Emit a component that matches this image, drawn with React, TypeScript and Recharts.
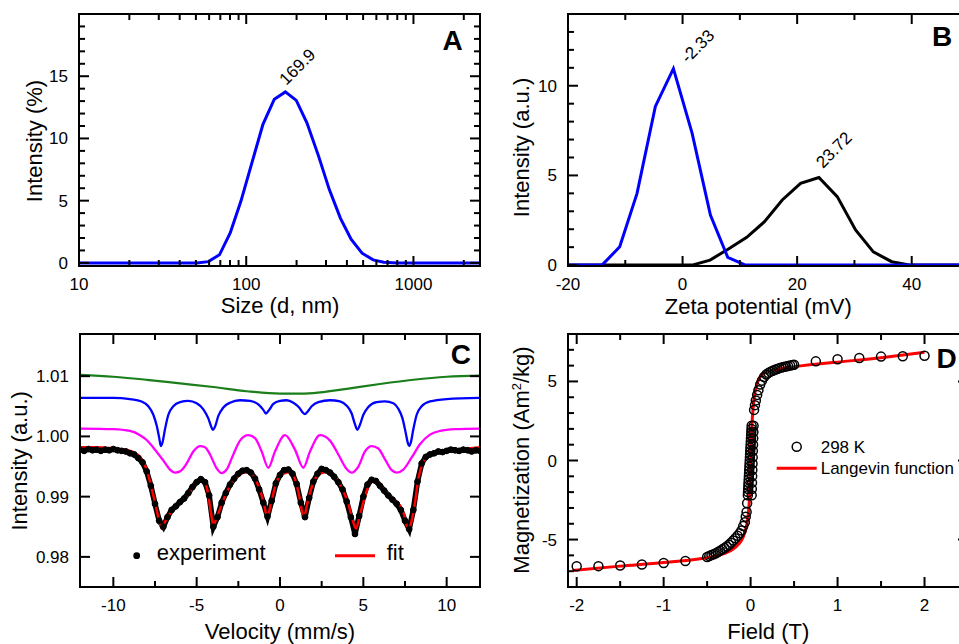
import React from 'react';
import { LineChart, ComposedChart, Line, Scatter, XAxis, YAxis, ReferenceDot } from 'recharts';

const FONT = '"Liberation Sans", Arial, Helvetica, sans-serif';

// ---------- Panel A: DLS size distribution ----------
const sizeNm = [10, 20, 30, 40, 50.7, 59.4, 69.2, 80.2, 92.9, 108.1, 125.9, 147.2, 171.4, 199.2, 230.6, 270.8, 314, 365.6, 423.6, 493, 574, 664, 800, 1200, 2500];
const sizeIntensity = [0, 0, 0, 0, 0, 0.1, 0.65, 2.4, 4.95, 8.04, 11.13, 13.15, 13.74, 13.06, 11.26, 8.58, 5.89, 3.6, 1.91, 0.78, 0.24, 0.05, 0, 0, 0];
const sizeMajor = [10, 100, 1000];
const sizeMinor = [20, 30, 40, 50, 60, 70, 80, 90, 200, 300, 400, 500, 600, 700, 800, 900, 2000];
const intAMajor = [0, 5, 10, 15];
const intAMinor = [1, 2, 3, 4, 6, 7, 8, 9, 11, 12, 13, 14, 16, 17, 18, 19];

// ---------- Panel B: zeta potential ----------
const zetaBlueX = [-20, -14.06, -10.97, -7.95, -4.75, -1.6, 1.66, 4.86, 7.89, 10.97, 50];
const zetaBlueY = [0, 0, 1.02, 4.0, 8.85, 10.95, 7.36, 2.79, 0.43, 0, 0];
const zetaBlackX = [-20, 1.66, 4.8, 8.0, 11.2, 14.3, 17.4, 20.6, 23.8, 27.0, 30.2, 33.3, 36.5, 39.8, 50];
const zetaBlackY = [0, 0, 0.28, 0.9, 1.55, 2.42, 3.63, 4.56, 4.88, 3.82, 1.96, 0.74, 0.19, 0, 0];
const zetaMajor = [-20, 0, 20, 40];
const zetaMinor = [-10, 10, 30];
const intBMajor = [0, 5, 10];
const intBMinor = [1, 2, 3, 4, 6, 7, 8, 9, 11, 12, 13];

// ---------- Panel C: Mossbauer ----------
const greenV = [-12, -10, -8, -6, -4, -2, 0, 1, 2, 4, 6, 8, 10, 12];
const greenI = [1.0102, 1.0099, 1.0094, 1.0088, 1.0082, 1.0075, 1.0071, 1.0071, 1.0072, 1.0079, 1.0087, 1.0094, 1.0099, 1.0101];
const blueV = [-12, -10, -9, -8.3, -7.9, -7.6, -7.4, -7.25, -7.15, -7.05, -6.9, -6.7, -6.4, -6.0, -5.5, -5.0, -4.6, -4.3, -4.15, -4.03, -3.9, -3.7, -3.4, -3.0, -2.4, -1.8, -1.3, -1.0, -0.84, -0.65, -0.4, 0, 0.4, 0.8, 1.15, 1.35, 1.5, 1.65, 1.9, 2.3, 3.0, 3.6, 4.0, 4.3, 4.5, 4.64, 4.78, 5.0, 5.3, 5.8, 6.3, 6.8, 7.1, 7.35, 7.55, 7.68, 7.76, 7.85, 8.0, 8.2, 8.5, 9.0, 10, 12];
const blueI = [1.0064, 1.0064, 1.0062, 1.0058, 1.0050, 1.0036, 1.0018, 0.9998, 0.9984, 0.9990, 1.0012, 1.0036, 1.0050, 1.0057, 1.0059, 1.0055, 1.0045, 1.0030, 1.0018, 1.0011, 1.0016, 1.0034, 1.0048, 1.0056, 1.0060, 1.0059, 1.0053, 1.0044, 1.0038, 1.0044, 1.0054, 1.0059, 1.0060, 1.0056, 1.0048, 1.0040, 1.0037, 1.0041, 1.0050, 1.0057, 1.0060, 1.0058, 1.0051, 1.0038, 1.0020, 1.0011, 1.0018, 1.0036, 1.0049, 1.0057, 1.0058, 1.0055, 1.0046, 1.0030, 1.0005, 0.9988, 0.9984, 0.9990, 1.0012, 1.0036, 1.0050, 1.0058, 1.0062, 1.0064];
const pinkV = [-12, -10, -9, -8.4, -8, -7.5, -7, -6.6, -6.3, -6.0, -5.6, -5.2, -4.8, -4.5, -4.2, -3.8, -3.5, -3.2, -2.8, -2.4, -1.9, -1.5, -1.1, -0.7, -0.3, 0.3, 0.9, 1.4, 1.8, 2.4, 3.0, 3.5, 4.0, 4.3, 4.7, 5.1, 5.5, 5.9, 6.3, 6.7, 7.0, 7.4, 7.9, 8.4, 9.0, 9.6, 10.5, 12];
const pinkI = [1.0013, 1.0012, 1.0009, 1.0002, 0.9994, 0.9978, 0.9960, 0.9945, 0.9940, 0.9942, 0.9955, 0.9975, 0.9984, 0.9982, 0.9970, 0.9947, 0.9939, 0.9945, 0.9970, 0.9993, 1.0002, 0.9997, 0.9975, 0.9948, 0.9975, 1.0002, 0.9978, 0.9948, 0.9975, 1.0002, 0.9993, 0.9970, 0.9946, 0.9940, 0.9950, 0.9975, 0.9984, 0.9980, 0.9962, 0.9944, 0.9940, 0.9945, 0.9965, 0.9987, 1.0003, 1.0009, 1.0012, 1.0013];
const fitV = [-12, -11, -10, -9.3, -8.8, -8.4, -8.1, -7.8, -7.5, -7.25, -7.1, -6.9, -6.6, -6.0, -5.4, -4.9, -4.6, -4.35, -4.15, -4.0, -3.8, -3.4, -3.0, -2.5, -2.0, -1.6, -1.3, -1.0, -0.76, -0.55, -0.2, 0.2, 0.6, 0.95, 1.2, 1.42, 1.65, 2.0, 2.4, 2.8, 3.3, 3.7, 4.1, 4.35, 4.56, 4.8, 5.1, 5.5, 5.9, 6.3, 6.8, 7.2, 7.45, 7.7, 7.9, 8.1, 8.3, 8.6, 9.0, 9.6, 10.6, 12];
const fitI = [0.9982, 0.9982, 0.9980, 0.9978, 0.9974, 0.9966, 0.9952, 0.9925, 0.9890, 0.9860, 0.9847, 0.9858, 0.9872, 0.9889, 0.9908, 0.9928, 0.9926, 0.9910, 0.9875, 0.9853, 0.9865, 0.9894, 0.9918, 0.9935, 0.9941, 0.9935, 0.9918, 0.9893, 0.9866, 0.9888, 0.9925, 0.9938, 0.9941, 0.9925, 0.9895, 0.9864, 0.9890, 0.9924, 0.9938, 0.9941, 0.9933, 0.9915, 0.9888, 0.9862, 0.9847, 0.9870, 0.9900, 0.9926, 0.9922, 0.9910, 0.9896, 0.9885, 0.9870, 0.9844, 0.9860, 0.9890, 0.9930, 0.9958, 0.9970, 0.9975, 0.9978, 0.9982];
const expV = [-12, -11.75, -11.5, -11.25, -11, -10.75, -10.5, -10.25, -10, -9.75, -9.5, -9.25, -9, -8.75, -8.5, -8.25, -8, -7.75, -7.5, -7.25, -7, -6.75, -6.5, -6.25, -6, -5.75, -5.5, -5.25, -5, -4.75, -4.5, -4.25, -4, -3.75, -3.5, -3.25, -3, -2.75, -2.5, -2.25, -2, -1.75, -1.5, -1.25, -1, -0.75, -0.5, -0.25, 0, 0.25, 0.5, 0.75, 1, 1.25, 1.5, 1.75, 2, 2.25, 2.5, 2.75, 3, 3.25, 3.5, 3.75, 4, 4.25, 4.5, 4.75, 5, 5.25, 5.5, 5.75, 6, 6.25, 6.5, 6.75, 7, 7.25, 7.5, 7.75, 8, 8.25, 8.5, 8.75, 9, 9.25, 9.5, 9.75, 10, 10.25, 10.5, 10.75, 11, 11.25, 11.5, 11.75, 12];
const expI = [0.9978, 0.9976, 0.9979, 0.9977, 0.9978, 0.9976, 0.9978, 0.9977, 0.9979, 0.9977, 0.9976, 0.9975, 0.9972, 0.9970, 0.9964, 0.9957, 0.9942, 0.9918, 0.9888, 0.9860, 0.9850, 0.9866, 0.9878, 0.9884, 0.9891, 0.9897, 0.9906, 0.9916, 0.9924, 0.9929, 0.9924, 0.9902, 0.9850, 0.9866, 0.9890, 0.9906, 0.9920, 0.9930, 0.9938, 0.9943, 0.9944, 0.9940, 0.9930, 0.9912, 0.9890, 0.9867, 0.9893, 0.9922, 0.9936, 0.9944, 0.9945, 0.9938, 0.9921, 0.9890, 0.9866, 0.9898, 0.9925, 0.9938, 0.9946, 0.9944, 0.9940, 0.9933, 0.9924, 0.9912, 0.9892, 0.9866, 0.9838, 0.9868, 0.9900, 0.9920, 0.9928, 0.9926, 0.9918, 0.9910, 0.9902, 0.9895, 0.9888, 0.9878, 0.9860, 0.9846, 0.9878, 0.9925, 0.9955, 0.9966, 0.9970, 0.9972, 0.9975, 0.9974, 0.9976, 0.9978, 0.9977, 0.9976, 0.9978, 0.9977, 0.9975, 0.9977, 0.9976];
const velMajor = [-10, -5, 0, 5, 10];
const velMinor = [-7.5, -2.5, 2.5, 7.5];
const intCMajor = [0.98, 0.99, 1.0, 1.01];

// ---------- Panel D: magnetization ----------
const magField = [-2, -1.75, -1.5, -1.25, -1, -0.75, -0.5, -0.475, -0.45, -0.425, -0.4, -0.375, -0.35, -0.325, -0.3, -0.275, -0.25, -0.225, -0.2, -0.175, -0.15, -0.125, -0.105, -0.085, -0.066, -0.056, -0.046, -0.04, -0.032, -0.03, -0.028, -0.026, -0.024, -0.022, -0.02, -0.018, -0.016, -0.014, -0.012, -0.01, -0.008, -0.006, -0.004, -0.002, 0, 0.002, 0.004, 0.006, 0.008, 0.01, 0.012, 0.012, 0.014, 0.016, 0.018, 0.02, 0.022, 0.024, 0.026, 0.028, 0.03, 0.032, 0.034, 0.04, 0.05, 0.06, 0.075, 0.09, 0.11, 0.13, 0.155, 0.18, 0.205, 0.23, 0.255, 0.28, 0.305, 0.33, 0.355, 0.38, 0.405, 0.43, 0.455, 0.48, 0.5, 0.75, 1, 1.25, 1.5, 1.75, 2];
const magMoment = [-6.69, -6.68, -6.64, -6.58, -6.48, -6.36, -6.1, -6.04, -5.98, -5.93, -5.87, -5.79, -5.7, -5.62, -5.53, -5.44, -5.33, -5.2, -5.06, -4.92, -4.76, -4.6, -4.42, -4.15, -3.9, -3.55, -3.26, -2.7, -2.2, -2.0, -1.8, -1.6, -1.4, -1.2, -1.0, -0.8, -0.6, -0.4, -0.2, 0, 0.2, 0.4, 0.6, 0.8, 1.0, 1.2, 1.4, 1.6, 1.8, 2.0, 2.2, -2.2, -1.8, -1.4, -1.0, -0.6, -0.2, 0.2, 0.6, 1.0, 1.4, 1.8, 2.2, 3.2, 3.5, 3.8, 4.15, 4.45, 4.8, 5.05, 5.28, 5.44, 5.54, 5.62, 5.68, 5.74, 5.79, 5.84, 5.88, 5.92, 5.95, 5.98, 6.01, 6.04, 6.06, 6.27, 6.4, 6.48, 6.57, 6.59, 6.63];
const langField = [-2.05, -1.5, -1, -0.58, -0.4, -0.3, -0.2, -0.14, -0.085, -0.05, -0.027, -0.012, 0, 0.015, 0.03, 0.05, 0.08, 0.107, 0.14, 0.184, 0.25, 0.337, 0.49, 1.14, 1.5, 2.0];
const langMoment = [-6.95, -6.68, -6.45, -6.21, -6.05, -5.88, -5.6, -5.3, -4.84, -4.2, -3.4, -2.2, 0, 2.2, 3.4, 4.3, 4.95, 5.26, 5.45, 5.58, 5.7, 5.79, 5.92, 6.3, 6.5, 6.84];
const fieldMajor = [-2, -1, 0, 1, 2];
const fieldMinor = [-1.5, -0.5, 0.5, 1.5];
const magMajor = [-5, 0, 5];
const magMinor = [-7, -6, -4, -3, -2, -1, 1, 2, 3, 4, 6, 7];

const zip = (xs: number[], ys: number[]) => xs.map((x, i) => ({ x, y: ys[i] }));

type Side = 'bottom' | 'top' | 'left' | 'right';

const makeTick = (side: Side, majors: number[], labeled: boolean, fmt: (v: number) => string = (v) => String(v)) =>
  (props: any) => {
    const { x, y, payload } = props;
    const v = Number(payload.value);
    const isMajor = majors.some((m) => Math.abs(m - v) < 1e-9);
    const len = isMajor ? 10 : 6;
    let x2 = x;
    let y2 = y;
    if (side === 'bottom') y2 = y - len;
    else if (side === 'top') y2 = y + len;
    else if (side === 'left') x2 = x + len;
    else x2 = x - len;
    let label: any = null;
    if (labeled && isMajor) {
      if (side === 'bottom') {
        label = (
          <text x={x} y={y + 24} textAnchor="middle" fontSize={17} fontFamily={FONT} fill="#000">
            {fmt(v)}
          </text>
        );
      } else if (side === 'left') {
        label = (
          <text x={x - 11} y={y + 6} textAnchor="end" fontSize={17} fontFamily={FONT} fill="#000">
            {fmt(v)}
          </text>
        );
      }
    }
    return (
      <g>
        <line x1={x} y1={y} x2={x2} y2={y2} stroke="#000" strokeWidth={2} />
        {label}
      </g>
    );
  };

const AXIS_LINE = { stroke: '#000', strokeWidth: 2, strokeLinecap: 'square' as const };

type FrameCfg = {
  xDomain: [number, number];
  yDomain: [number, number];
  xScale?: 'log' | 'linear';
  xMajor: number[];
  xMinor: number[];
  yMajor: number[];
  yMinor: number[];
  topH: number;
  bottomH: number;
  leftW: number;
  rightW: number;
  yFmt?: (v: number) => string;
};

function frameAxes(c: FrameCfg) {
  const xTicks = [...c.xMajor, ...c.xMinor].sort((a, b) => a - b);
  const yTicks = [...c.yMajor, ...c.yMinor].sort((a, b) => a - b);
  const scale = c.xScale ?? 'linear';
  return [
    <XAxis key="xb" xAxisId="b" orientation="bottom" dataKey="x" type="number" scale={scale} domain={c.xDomain} allowDataOverflow ticks={xTicks} interval={0} height={c.bottomH} tickSize={0} tickMargin={0} tickLine={false} axisLine={AXIS_LINE} tick={makeTick('bottom', c.xMajor, true)} />,
    <XAxis key="xt" xAxisId="t" orientation="top" dataKey="x" type="number" scale={scale} domain={c.xDomain} allowDataOverflow ticks={xTicks} interval={0} height={c.topH} tickSize={0} tickMargin={0} tickLine={false} axisLine={AXIS_LINE} tick={makeTick('top', c.xMajor, false)} />,
    <YAxis key="yl" yAxisId="l" orientation="left" dataKey="y" type="number" domain={c.yDomain} allowDataOverflow ticks={yTicks} interval={0} width={c.leftW} tickSize={0} tickMargin={0} tickLine={false} axisLine={AXIS_LINE} tick={makeTick('left', c.yMajor, true, c.yFmt)} />,
    <YAxis key="yr" yAxisId="r" orientation="right" dataKey="y" type="number" domain={c.yDomain} allowDataOverflow ticks={yTicks} interval={0} width={c.rightW} tickSize={0} tickMargin={0} tickLine={false} axisLine={AXIS_LINE} tick={makeTick('right', c.yMajor, false)} />,
  ];
}

const titleStyle = { fontSize: 22, fontFamily: FONT, fill: '#000' };
const letterStyle = { fontSize: 28, fontFamily: FONT, fontWeight: 700, fill: '#000' };
const annot = (dx: number, dy: number, txt: string) => (p: any) => {
  const x = p.cx + dx;
  const y = p.cy + dy;
  return (
    <text x={x} y={y} transform={`rotate(-45 ${x} ${y})`} fontSize={17} fontFamily={FONT} fill="#000">
      {txt}
    </text>
  );
};

function PanelA() {
  return (
    <LineChart width={500} height={320} margin={{ top: 0, right: 0, bottom: 0, left: 0 }}>
      {frameAxes({ xDomain: [10, 2500], yDomain: [-0.25, 20], xScale: 'log', xMajor: sizeMajor, xMinor: sizeMinor, yMajor: intAMajor, yMinor: intAMinor, topH: 14, bottomH: 54, leftW: 79, rightW: 20 })}
      <Line data={zip(sizeNm, sizeIntensity)} dataKey="y" xAxisId="b" yAxisId="l" type="linear" stroke="#0000ff" strokeWidth={3} dot={false} isAnimationActive={false} />
      <ReferenceDot xAxisId="b" yAxisId="l" x={171.4} y={13.74} r={0} ifOverflow="visible" shape={annot(1, -6, '169.9')} />
      <text transform="translate(42,141) rotate(-90)" textAnchor="middle" {...titleStyle}>Intensity (%)</text>
      <text x={280} y={312.5} textAnchor="middle" {...titleStyle}>Size (d, nm)</text>
      <text x={452.7} y={50} textAnchor="middle" {...letterStyle}>A</text>
    </LineChart>
  );
}

function PanelB() {
  return (
    <LineChart width={500} height={320} margin={{ top: 0, right: 0, bottom: 0, left: 0 }}>
      {frameAxes({ xDomain: [-20, 50], yDomain: [-0.05, 14], xMajor: zetaMajor, xMinor: zetaMinor, yMajor: intBMajor, yMinor: intBMinor, topH: 14, bottomH: 54, leftW: 88, rightW: 11 })}
      <Line data={zip(zetaBlackX, zetaBlackY)} dataKey="y" xAxisId="b" yAxisId="l" type="linear" stroke="#000" strokeWidth={3} dot={false} isAnimationActive={false} />
      <Line data={zip(zetaBlueX, zetaBlueY)} dataKey="y" xAxisId="b" yAxisId="l" type="linear" stroke="#0000ff" strokeWidth={3} dot={false} isAnimationActive={false} />
      <ReferenceDot xAxisId="b" yAxisId="l" x={-1.6} y={10.95} r={0} ifOverflow="visible" shape={annot(14.7, -4.7, '-2.33')} />
      <ReferenceDot xAxisId="b" yAxisId="l" x={23.8} y={4.88} r={0} ifOverflow="visible" shape={annot(4, -8.6, '23.72')} />
      <text transform="translate(48.7,147.5) rotate(-90)" textAnchor="middle" {...titleStyle}>Intensity (a.u.)</text>
      <text x={278.3} y={313.5} textAnchor="middle" {...titleStyle}>Zeta potential (mV)</text>
      <text x={462.2} y={46} textAnchor="middle" {...letterStyle}>B</text>
    </LineChart>
  );
}

function PanelC() {
  return (
    <LineChart width={500} height={324} margin={{ top: 0, right: 0, bottom: 0, left: 0 }}>
      {frameAxes({ xDomain: [-12, 12], yDomain: [0.975, 1.017], xMajor: velMajor, xMinor: velMinor, yMajor: intCMajor, yMinor: [], topH: 14, bottomH: 57, leftW: 80, rightW: 20, yFmt: (v) => v.toFixed(2) })}
      <Line data={zip(greenV, greenI)} dataKey="y" xAxisId="b" yAxisId="l" type="monotone" stroke="#1a7f1a" strokeWidth={2.2} dot={false} isAnimationActive={false} />
      <Line data={zip(blueV, blueI)} dataKey="y" xAxisId="b" yAxisId="l" type="monotone" stroke="#0000ff" strokeWidth={2.3} dot={false} isAnimationActive={false} />
      <Line data={zip(pinkV, pinkI)} dataKey="y" xAxisId="b" yAxisId="l" type="monotone" stroke="#ff00ff" strokeWidth={2.3} dot={false} isAnimationActive={false} />
      <Line data={zip(expV, expI)} dataKey="y" xAxisId="b" yAxisId="l" type="linear" stroke="#000" strokeWidth={5.5} dot={{ r: 2.9, fill: '#000', stroke: '#000', strokeWidth: 1 }} isAnimationActive={false} />
      <Line data={zip(fitV, fitI)} dataKey="y" xAxisId="b" yAxisId="l" type="monotone" stroke="#ff0000" strokeWidth={2.5} dot={false} isAnimationActive={false} />
      <circle cx={136.7} cy={235.7} r={3.4} fill="#000" />
      <text x={156.7} y={239.5} {...titleStyle}>experiment</text>
      <line x1={335} y1={235.7} x2={375} y2={235.7} stroke="#ff0000" strokeWidth={3} />
      <text x={386.7} y={239.5} {...titleStyle}>fit</text>
      <text transform="translate(27,140.8) rotate(-90)" textAnchor="middle" {...titleStyle}>Intensity (a.u.)</text>
      <text x={280} y={318.5} textAnchor="middle" {...titleStyle}>Velocity (mm/s)</text>
      <text x={460.8} y={44} textAnchor="middle" {...letterStyle}>C</text>
    </LineChart>
  );
}

function PanelD() {
  return (
    <ComposedChart width={500} height={324} margin={{ top: 0, right: 0, bottom: 0, left: 0 }}>
      {frameAxes({ xDomain: [-2.1, 2.5], yDomain: [-8, 8], xMajor: fieldMajor, xMinor: fieldMinor, yMajor: magMajor, yMinor: magMinor, topH: 14, bottomH: 57, leftW: 88, rightW: 12 })}
      <Scatter data={zip(magField, magMoment)} dataKey="y" xAxisId="b" yAxisId="l" isAnimationActive={false}
        shape={(p: any) => <circle cx={p.cx} cy={p.cy} r={4.5} fill="none" stroke="#000" strokeWidth={1.5} />} />
      <Line data={zip(langField, langMoment)} dataKey="y" xAxisId="b" yAxisId="l" type="monotone" stroke="#ff0000" strokeWidth={3} dot={false} isAnimationActive={false} />
      <circle cx={316.7} cy={126.7} r={4.5} fill="none" stroke="#000" strokeWidth={1.5} />
      <text x={340.7} y={132.7} fontSize={17} fontFamily={FONT} fill="#000">298 K</text>
      <line x1={296.7} y1={148.3} x2={336.7} y2={148.3} stroke="#ff0000" strokeWidth={3} />
      <text x={340.7} y={154} fontSize={17} fontFamily={FONT} fill="#000">Langevin function</text>
      <text transform="translate(48.7,140) rotate(-90)" textAnchor="middle" {...titleStyle}>
        Magnetization (Am<tspan dy={-8} fontSize={13}>2</tspan><tspan dy={8}>/kg)</tspan>
      </text>
      <text x={288.3} y={319} textAnchor="middle" {...titleStyle}>Field (T)</text>
      <text x={466.7} y={48} textAnchor="middle" {...letterStyle}>D</text>
    </ComposedChart>
  );
}

export default function App() {
  return (
    <div style={{ position: 'fixed', left: 0, top: 0, width: 959, height: 644, overflow: 'hidden', background: '#fff' }}>
      <div style={{ position: 'absolute', left: 0, top: 0 }}><PanelA /></div>
      <div style={{ position: 'absolute', left: 480, top: 0 }}><PanelB /></div>
      <div style={{ position: 'absolute', left: 0, top: 320 }}><PanelC /></div>
      <div style={{ position: 'absolute', left: 480, top: 320 }}><PanelD /></div>
    </div>
  );
}
